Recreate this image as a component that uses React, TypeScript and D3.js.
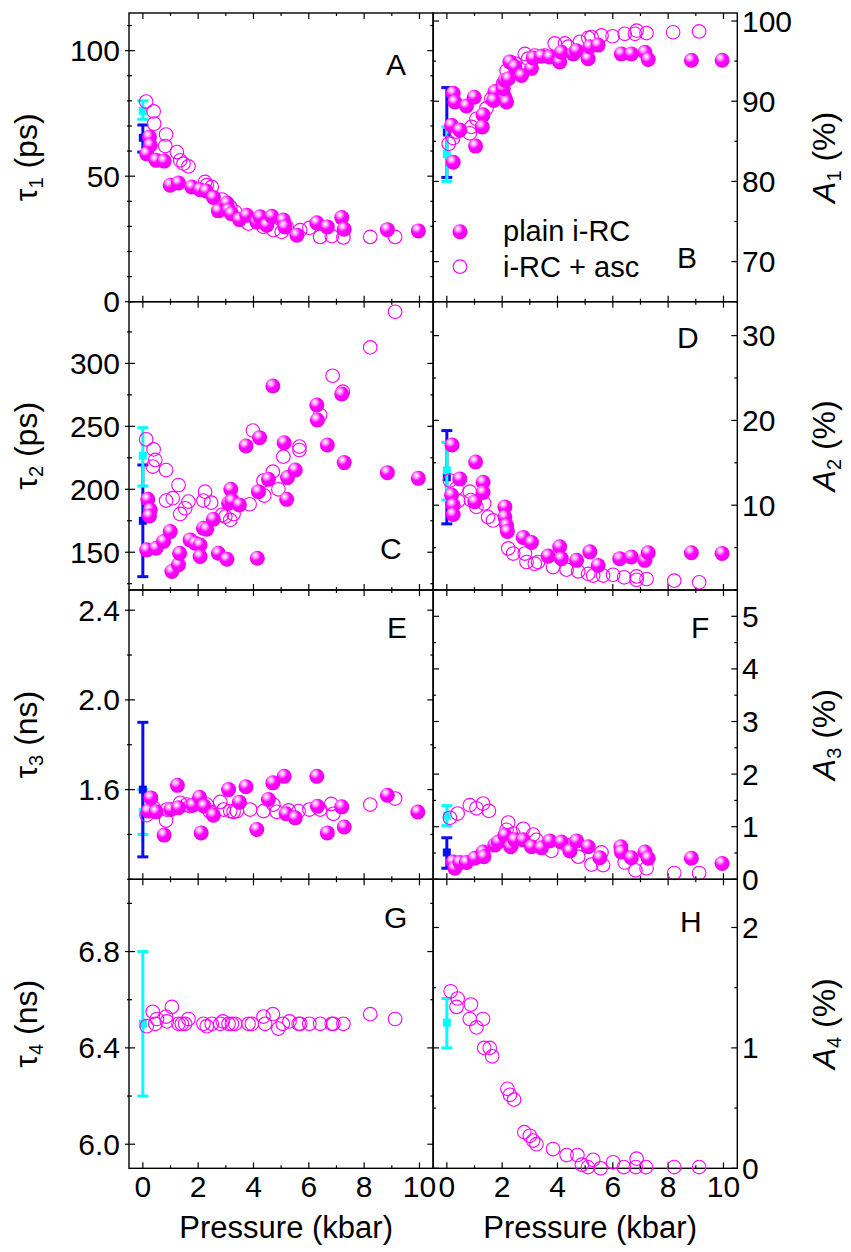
import React from 'react';
import * as d3 from 'd3';

// ---------- DATA ----------
const xMajor = [0, 2, 4, 6, 8, 10];
const xMinor = [1, 3, 5, 7, 9];

// Panel A: tau1 (ps)
const tau1Plain = [[0.24,65.6],[0.27,62.3],[0.14,58.9],[0.48,56.3],[0.77,56],[0.99,46.4],[1.29,47.3],[1.77,45.7],[2.07,44.6],[2.29,44.1],[2.55,41.5],[2.73,36.2],[3.04,39.3],[3.1,36.4],[3.2,35.1],[3.49,32.7],[3.76,34.4],[4.12,31.8],[4.24,33.8],[4.48,30.5],[4.66,34],[5.08,32.5],[5.14,29.8],[5.57,26.5],[6.29,31.4],[6.67,29.8],[7.19,33.5],[7.28,28.9],[8.84,28.7],[9.96,28.2]];
const tau1Asc = [[0.12,79.7],[0.39,75.8],[0.41,70.9],[0.84,66.6],[0.81,62],[1.23,59.6],[1.35,56.3],[1.47,55],[1.65,53.9],[2.25,47.7],[2.31,46.4],[2.49,45.7],[2.86,40.7],[3.16,37.7],[3.34,35.8],[3.82,31.1],[4.12,32.5],[4.36,29.8],[4.72,28.5],[5.02,27.8],[5.2,29.8],[5.69,28.5],[6.02,29.4],[6.41,25.8],[6.83,26.1],[7.25,25.6],[8.22,25.8],[9.12,25.8]];
const tau1Blue = { x: 0, y: 65.3, lo: 59.6, hi: 70.4 };
const tau1Cyan = { x: 0, y: 76, lo: 72.7, hi: 80 };

// Panel B: A1 (%)
const a1Plain = [[0.23,91],[0.29,89.9],[0.17,87],[0.47,86.4],[0.23,82.4],[0.71,89.4],[0.99,90.5],[1.04,84.4],[1.31,88.3],[1.28,86.8],[1.74,91.2],[1.69,90.1],[2.1,90.5],[2.16,89.9],[2.04,91.6],[2.1,92.6],[2.22,92.8],[2.28,94.9],[2.46,94.3],[2.7,93.2],[3.06,94.1],[3.12,95.4],[3.42,95.6],[3.72,95.5],[4.08,94.9],[4.14,96.1],[4.57,95.9],[4.69,96.3],[5.11,95.3],[5.17,96.8],[5.47,97],[6.31,95.9],[6.67,95.9],[7.16,96.1],[7.28,95.2],[8.84,95.1],[9.95,95.1]];
const a1Asc = [[0.07,84.7],[0.23,85.4],[0.35,86.2],[0.83,86],[0.89,86.8],[1.07,87.8],[1.43,89.1],[1.61,90.3],[2.04,92.2],[2.16,93.8],[2.46,94.7],[2.82,95.9],[2.94,95.3],[3.18,95.7],[3.54,95.7],[3.9,97.2],[4.27,97.2],[4.39,96.8],[4.81,97.4],[5.11,97.9],[5.23,98],[5.59,98.2],[5.99,98.1],[6.43,98.4],[6.8,98.4],[6.86,98.8],[7.22,98.5],[8.18,98.6],[9.12,98.7]];
const a1Blue = { x: 0, y: 86.1, lo: 80.5, hi: 91.7 };
const a1Cyan = { x: 0, y: 83.4, lo: 80, hi: 86.8 };

// Panel C: tau2 (ps)
const tau2Plain = [[0.18,192],[0.27,183.6],[0.24,178.8],[0.14,151.9],[0.48,153.2],[0.75,158.5],[0.99,166.4],[1.05,134.7],[1.29,140],[1.33,149.2],[1.71,159.8],[1.89,157.1],[2.07,155.8],[2.07,146.6],[2.19,169],[2.31,168.3],[2.55,176.2],[2.73,149.2],[3.04,144.4],[3.1,188.9],[3.18,200],[3.22,190.7],[3.49,187.6],[3.73,234.4],[4.22,241],[4.14,145.2],[4.18,198.1],[4.54,207.9],[4.7,282],[5.11,237],[5.2,192],[5.23,209.3],[5.51,215.3],[6.29,266.9],[6.31,255],[6.67,235.2],[7.19,275.7],[7.28,221.2],[8.84,213.2],[9.96,208.7]];
const tau2Asc = [[0.12,239.7],[0.39,231.7],[0.45,223.3],[0.36,218],[0.84,215.3],[0.84,191],[1.08,192.9],[1.29,203.4],[1.35,180.4],[1.53,184.9],[1.65,190.2],[2.25,198.1],[2.19,191],[2.47,189.4],[2.86,179.6],[2.98,178.3],[3.16,175.7],[3.28,180.4],[3.22,191.5],[3.86,188.1],[3.98,246.6],[4.36,206.9],[4.39,195],[4.7,214],[4.9,200],[5.08,225.9],[5.66,233.9],[5.66,231.2],[6.41,259],[6.86,290.2],[7.23,277.5],[8.22,312.7],[9.12,341]];
const tau2Blue = { x: 0, y: 175, lo: 130.6, hi: 219.3 };
const tau2Cyan = { x: 0, y: 226.7, lo: 202.6, hi: 248.9 };

// Panel D: A2 (%)
const a2Plain = [[0.19,17.1],[0.47,13.1],[0.17,11.2],[0.23,10],[0.23,8.9],[1.04,15.1],[1.01,10.4],[1.31,12.7],[1.31,11.5],[2.1,9.8],[2.1,8.6],[2.16,7.6],[2.19,6.9],[2.76,6.2],[3.06,5.6],[3.66,4],[4.08,5.1],[4.14,3.7],[4.69,3.5],[5.17,4.5],[5.47,2.9],[6.25,3.7],[6.67,3.9],[7.16,3.5],[7.28,4.4],[8.84,4.4],[9.95,4.3]];
const a2Asc = [[0.11,12.9],[0.35,12],[0.41,10.5],[0.83,11.6],[0.87,10.6],[1.07,9.8],[1.35,10.2],[1.49,8.6],[1.67,8.2],[2.22,4.9],[2.4,4.3],[2.82,4.3],[2.88,3.3],[3.18,3.1],[3.3,3.3],[3.84,2.7],[4.33,2.4],[4.75,2.2],[5.11,1.9],[5.29,1.7],[5.65,1.7],[6.01,1.8],[6.41,1.5],[6.86,1.6],[6.86,1.2],[7.22,1.3],[8.22,1.1],[9.12,0.9]];
const a2Blue = { x: 0, y: 13.3, lo: 7.8, hi: 18.8 };
const a2Cyan = { x: 0, y: 14.1, lo: 10.6, hi: 17.4 };

// Panel E: tau3 (ns)
const tau3Plain = [[0.29,1.563],[0.2,1.504],[0.48,1.501],[0.77,1.397],[1.01,1.511],[1.25,1.619],[1.29,1.519],[1.81,1.53],[2.05,1.566],[2.11,1.407],[2.22,1.526],[2.55,1.486],[3.1,1.6],[3.49,1.544],[3.73,1.613],[4.12,1.422],[4.54,1.556],[4.7,1.63],[5.11,1.659],[5.18,1.492],[5.51,1.474],[6.29,1.659],[6.31,1.526],[6.67,1.407],[7.19,1.523],[7.28,1.433],[8.84,1.575],[9.94,1.5]];
const tau3Asc = [[0.14,1.486],[0.39,1.519],[0.84,1.462],[0.87,1.511],[1.35,1.541],[1.59,1.533],[1.71,1.526],[2.31,1.533],[2.43,1.501],[2.8,1.545],[2.92,1.511],[3.16,1.504],[3.28,1.501],[3.4,1.504],[3.88,1.511],[4.36,1.504],[4.72,1.533],[4.84,1.501],[5.27,1.507],[5.63,1.504],[6.02,1.511],[6.41,1.511],[6.81,1.536],[6.89,1.492],[8.22,1.533],[9.12,1.56]];
const tau3Blue = { x: 0, y: 1.6, lo: 1.3, hi: 1.9 };
const tau3Cyan = { x: 0, y: 1.5, lo: 1.4, hi: 1.6 };

// Panel F: A3 (%)
const a3Plain = [[0.23,0.33],[0.29,0.21],[0.47,0.32],[0.71,0.32],[1.01,0.4],[1.31,0.52],[1.34,0.43],[1.73,0.65],[1.86,0.71],[2.1,0.84],[2.31,0.62],[2.46,0.75],[2.76,0.75],[3.06,0.62],[3.42,0.6],[3.72,0.73],[4.14,0.71],[4.45,0.54],[4.69,0.73],[5.11,0.62],[5.53,0.41],[6.29,0.62],[6.31,0.52],[6.67,0.41],[7.16,0.52],[7.28,0.4],[8.84,0.4],[9.95,0.3]];
const a3Asc = [[0.11,1.17],[0.39,1.25],[0.83,1.41],[1.07,1.35],[1.31,1.44],[1.52,1.3],[2.22,1.08],[2.16,0.94],[2.4,0.87],[2.76,0.96],[3.12,0.85],[3.24,0.75],[3.78,0.54],[4.33,0.65],[4.75,0.43],[5.23,0.28],[5.59,0.51],[5.65,0.27],[6.43,0.32],[6.82,0.17],[7.22,0.21],[8.22,0.12],[9.12,0.12]];
const a3Blue = { x: 0, y: 0.51, lo: 0.21, hi: 0.79 };
const a3Cyan = { x: 0, y: 1.21, lo: 1.02, hi: 1.4 };

// Panel G: tau4 (ns)
const tau4Asc = [[0.14,6.49],[0.36,6.55],[0.45,6.5],[0.51,6.52],[0.84,6.53],[1.05,6.57],[0.87,6.51],[1.29,6.5],[1.41,6.5],[1.65,6.52],[1.53,6.5],[2.19,6.5],[2.31,6.49],[2.49,6.5],[2.8,6.5],[2.89,6.51],[3.1,6.5],[3.22,6.5],[3.34,6.5],[3.82,6.5],[3.94,6.5],[4.36,6.53],[4.42,6.5],[4.7,6.54],[4.9,6.48],[5.06,6.5],[5.3,6.51],[5.63,6.5],[5.69,6.5],[6.02,6.5],[6.41,6.5],[6.83,6.5],[6.89,6.5],[7.25,6.5],[8.22,6.54],[9.12,6.52]];
const tau4Cyan = { x: 0, y: 6.5, lo: 6.2, hi: 6.8 };

// Panel H: A4 (%)
const a4Asc = [[0.14,1.47],[0.39,1.41],[0.35,1.34],[0.87,1.36],[0.83,1.24],[1.07,1.17],[1.31,1.24],[1.35,1.0],[1.55,1.0],[1.64,0.93],[2.19,0.66],[2.28,0.61],[2.43,0.57],[2.8,0.3],[3.0,0.27],[3.12,0.23],[3.24,0.2],[3.84,0.16],[4.33,0.11],[4.72,0.11],[4.88,0.03],[5.1,0.01],[5.29,0.07],[5.56,0.0],[6.01,0.05],[6.4,0.01],[6.86,0.08],[6.83,0.01],[7.2,0.01],[8.22,0.01],[9.12,0.01]];
const a4Cyan = { x: 0, y: 1.21, lo: 1.0, hi: 1.41 };

// ---------- LAYOUT / STYLE ----------
const FONT = '"Liberation Sans", Arial, Helvetica, sans-serif';
const MAGENTA = '#ff00ff';
const BLUE = '#0c0cf0';
const CYAN = '#00ffff';
const colLeft = [129, 433];
const panelW = 304.3;
const rowTop = [13, 301.7, 590, 879.3];
const rowBot = [301.7, 590, 879.3, 1168.3];

type Err = { x: number; y: number; lo: number; hi: number };
type P = {
  col: number; row: number; domain: [number, number]; major: number[]; minorStep: number;
  labels: number[]; dec: number; sym: string; sub: string; unit: string; italic: boolean;
  plain: number[][]; asc: number[][]; errs: { e: Err; c: string }[]; letter: string; lx: number; ly: number;
};

const panels: P[] = [
  { col: 0, row: 0, domain: [0, 115], major: [0, 50, 100], minorStep: 10, labels: [0, 50, 100], dec: 0, sym: 'τ', sub: '1', unit: '(ps)', italic: false, plain: tau1Plain, asc: tau1Asc, errs: [{ e: tau1Blue, c: BLUE }, { e: tau1Cyan, c: CYAN }], letter: 'A', lx: 257, ly: 62 },
  { col: 1, row: 0, domain: [65, 101], major: [70, 80, 90, 100], minorStep: 5, labels: [70, 80, 90, 100], dec: 0, sym: 'A', sub: '1', unit: '(%)', italic: true, plain: a1Plain, asc: a1Asc, errs: [{ e: a1Blue, c: BLUE }, { e: a1Cyan, c: CYAN }], letter: 'B', lx: 244, ly: 255 },
  { col: 0, row: 1, domain: [120, 349], major: [150, 200, 250, 300], minorStep: 25, labels: [150, 200, 250, 300], dec: 0, sym: 'τ', sub: '2', unit: '(ps)', italic: false, plain: tau2Plain, asc: tau2Asc, errs: [{ e: tau2Blue, c: BLUE }, { e: tau2Cyan, c: CYAN }], letter: 'C', lx: 251, ly: 257 },
  { col: 1, row: 1, domain: [0, 34], major: [10, 20, 30], minorStep: 5, labels: [10, 20, 30], dec: 0, sym: 'A', sub: '2', unit: '(%)', italic: true, plain: a2Plain, asc: a2Asc, errs: [{ e: a2Blue, c: BLUE }, { e: a2Cyan, c: CYAN }], letter: 'D', lx: 244, ly: 46 },
  { col: 0, row: 2, domain: [1.2, 2.49], major: [1.6, 2.0, 2.4], minorStep: 0.2, labels: [1.6, 2.0, 2.4], dec: 1, sym: 'τ', sub: '3', unit: '(ns)', italic: false, plain: tau3Plain, asc: tau3Asc, errs: [{ e: tau3Cyan, c: CYAN }, { e: tau3Blue, c: BLUE }], letter: 'E', lx: 258, ly: 48 },
  { col: 1, row: 2, domain: [0, 5.5], major: [0, 1, 2, 3, 4, 5], minorStep: 0.5, labels: [0, 1, 2, 3, 4, 5], dec: 0, sym: 'A', sub: '3', unit: '(%)', italic: true, plain: a3Plain, asc: a3Asc, errs: [{ e: a3Blue, c: BLUE }, { e: a3Cyan, c: CYAN }], letter: 'F', lx: 258, ly: 48 },
  { col: 0, row: 3, domain: [5.9, 7.1], major: [6.0, 6.4, 6.8], minorStep: 0.2, labels: [6.0, 6.4, 6.8], dec: 1, sym: 'τ', sub: '4', unit: '(ns)', italic: false, plain: [], asc: tau4Asc, errs: [{ e: tau4Cyan, c: CYAN }], letter: 'G', lx: 255, ly: 49 },
  { col: 1, row: 3, domain: [0, 2.4], major: [0, 1, 2], minorStep: 0.5, labels: [0, 1, 2], dec: 0, sym: 'A', sub: '4', unit: '(%)', italic: true, plain: [], asc: a4Asc, errs: [{ e: a4Cyan, c: CYAN }], letter: 'H', lx: 247, ly: 53 },
];

function stepValues(d0: number, d1: number, step: number) {
  const a = Math.ceil(d0 / step - 1e-9), b = Math.floor(d1 / step + 1e-9);
  return d3.range(a, b + 1).map((i) => +(i * step).toFixed(6));
}

const R_FILLED = 7.5;
const R_OPEN = 6.8;

function Panel({ p }: { p: P }) {
  const x0 = colLeft[p.col], x1 = x0 + panelW;
  const y0 = rowTop[p.row], y1 = rowBot[p.row];
  const x = d3.scaleLinear().domain([-0.5, 10.5]).range([x0, x1]);
  const y = d3.scaleLinear().domain(p.domain).range([y1, y0]);
  const minors = stepValues(p.domain[0], p.domain[1], p.minorStep).filter((v) => !p.major.some((m) => Math.abs(m - v) < 1e-6));
  const MJ = 6, MN = 3;
  const left = p.col === 0;
  const tk: JSX.Element[] = [];
  xMajor.forEach((v) => {
    tk.push(<line key={'xb' + v} x1={x(v)} x2={x(v)} y1={y1} y2={y1 - MJ} />);
    tk.push(<line key={'xt' + v} x1={x(v)} x2={x(v)} y1={y0} y2={y0 + MJ} />);
  });
  xMinor.forEach((v) => {
    tk.push(<line key={'xbm' + v} x1={x(v)} x2={x(v)} y1={y1} y2={y1 - MN} />);
    tk.push(<line key={'xtm' + v} x1={x(v)} x2={x(v)} y1={y0} y2={y0 + MN} />);
  });
  p.major.forEach((v) => {
    tk.push(<line key={'yl' + v} x1={left ? x0 - 4 : x0} x2={x0 + MJ} y1={y(v)} y2={y(v)} />);
    tk.push(<line key={'yr' + v} x1={x1} x2={x1 - MJ} y1={y(v)} y2={y(v)} />);
  });
  minors.forEach((v) => {
    tk.push(<line key={'ylm' + v} x1={left ? x0 - 2 : x0} x2={x0 + MN} y1={y(v)} y2={y(v)} />);
    tk.push(<line key={'yrm' + v} x1={x1} x2={x1 - MN} y1={y(v)} y2={y(v)} />);
  });
  const cy = (y0 + y1) / 2;
  const titleX = left ? 37 : 835;
  return (
    <g>
      <rect x={x0} y={y0} width={panelW} height={y1 - y0} fill="none" stroke="#000" strokeWidth={1.4} />
      <g stroke="#000" strokeWidth={1.2}>{tk}</g>
      {p.labels.map((v) => (
        <text key={'lab' + v} x={left ? 120 : 742} y={y(v) + 10.5} textAnchor={left ? 'end' : 'start'} fontSize={30} fontFamily={FONT} fill="#000">
          {v.toFixed(p.dec)}
        </text>
      ))}
      <text transform={`translate(${titleX},${cy}) rotate(-90)`} textAnchor="middle" fontSize={32} fontFamily={FONT} fill="#000">
        <tspan fontStyle={p.italic ? 'italic' : 'normal'}>{p.sym}</tspan>
        <tspan fontSize={20} dy={6}>{p.sub}</tspan>
        <tspan dy={-6}>{' ' + p.unit}</tspan>
      </text>
      <text x={x0 + p.lx} y={y0 + p.ly} fontSize={30} fontFamily={FONT} fill="#000">{p.letter}</text>
      {p.errs.map(({ e, c }, i) => (
        <g key={'err' + i} stroke={c} strokeWidth={3}>
          <line x1={x(e.x)} x2={x(e.x)} y1={y(e.lo)} y2={y(e.hi)} />
          <line x1={x(e.x) - 5.5} x2={x(e.x) + 5.5} y1={y(e.lo)} y2={y(e.lo)} />
          <line x1={x(e.x) - 5.5} x2={x(e.x) + 5.5} y1={y(e.hi)} y2={y(e.hi)} />
          <rect x={x(e.x) - 4} y={y(e.y) - 4} width={8} height={8} fill={c} stroke="none" />
        </g>
      ))}
      {p.asc.map((d, i) => (
        <circle key={'o' + i} cx={x(d[0])} cy={y(d[1])} r={R_OPEN} fill="none" stroke={MAGENTA} strokeWidth={1.1} />
      ))}
      {p.plain.map((d, i) => (
        <circle key={'f' + i} cx={x(d[0])} cy={y(d[1])} r={R_FILLED} fill="url(#ball)" />
      ))}
    </g>
  );
}

export default function App() {
  const xl = d3.scaleLinear().domain([-0.5, 10.5]).range([colLeft[0], colLeft[0] + panelW]);
  const xr = d3.scaleLinear().domain([-0.5, 10.5]).range([colLeft[1], colLeft[1] + panelW]);
  return (
    <svg width={851} height={1252} style={{ position: 'absolute', left: 0, top: 0, display: 'block' }}>
      <defs>
        <radialGradient id="ball" cx="0.38" cy="0.34" r="0.62" fx="0.36" fy="0.3">
          <stop offset="0" stopColor="#ffffff" />
          <stop offset="0.22" stopColor="#ffb3ff" />
          <stop offset="0.55" stopColor="#ff00ff" />
          <stop offset="1" stopColor="#ee00ee" />
        </radialGradient>
      </defs>
      <rect x={0} y={0} width={851} height={1252} fill="#fff" />
      {panels.map((p, i) => <Panel key={i} p={p} />)}
      {xMajor.map((v) => (
        <text key={'bl' + v} x={xl(v)} y={1197} textAnchor="middle" fontSize={30} fontFamily={FONT}>{v}</text>
      ))}
      {xMajor.map((v) => (
        <text key={'br' + v} x={xr(v)} y={1197} textAnchor="middle" fontSize={30} fontFamily={FONT}>{v}</text>
      ))}
      <text x={xl(5) + 5} y={1238} textAnchor="middle" fontSize={31} fontFamily={FONT}>Pressure (kbar)</text>
      <text x={xr(5) + 5} y={1238} textAnchor="middle" fontSize={31} fontFamily={FONT}>Pressure (kbar)</text>
      {/* legend in panel B */}
      <circle cx={460} cy={231.7} r={R_FILLED} fill="url(#ball)" />
      <text x={503} y={240.5} fontSize={29} fontFamily={FONT}>plain i-RC</text>
      <circle cx={460} cy={266.7} r={R_OPEN} fill="none" stroke={MAGENTA} strokeWidth={1.1} />
      <text x={503} y={276.5} fontSize={29} fontFamily={FONT}>i-RC + asc</text>
    </svg>
  );
}
